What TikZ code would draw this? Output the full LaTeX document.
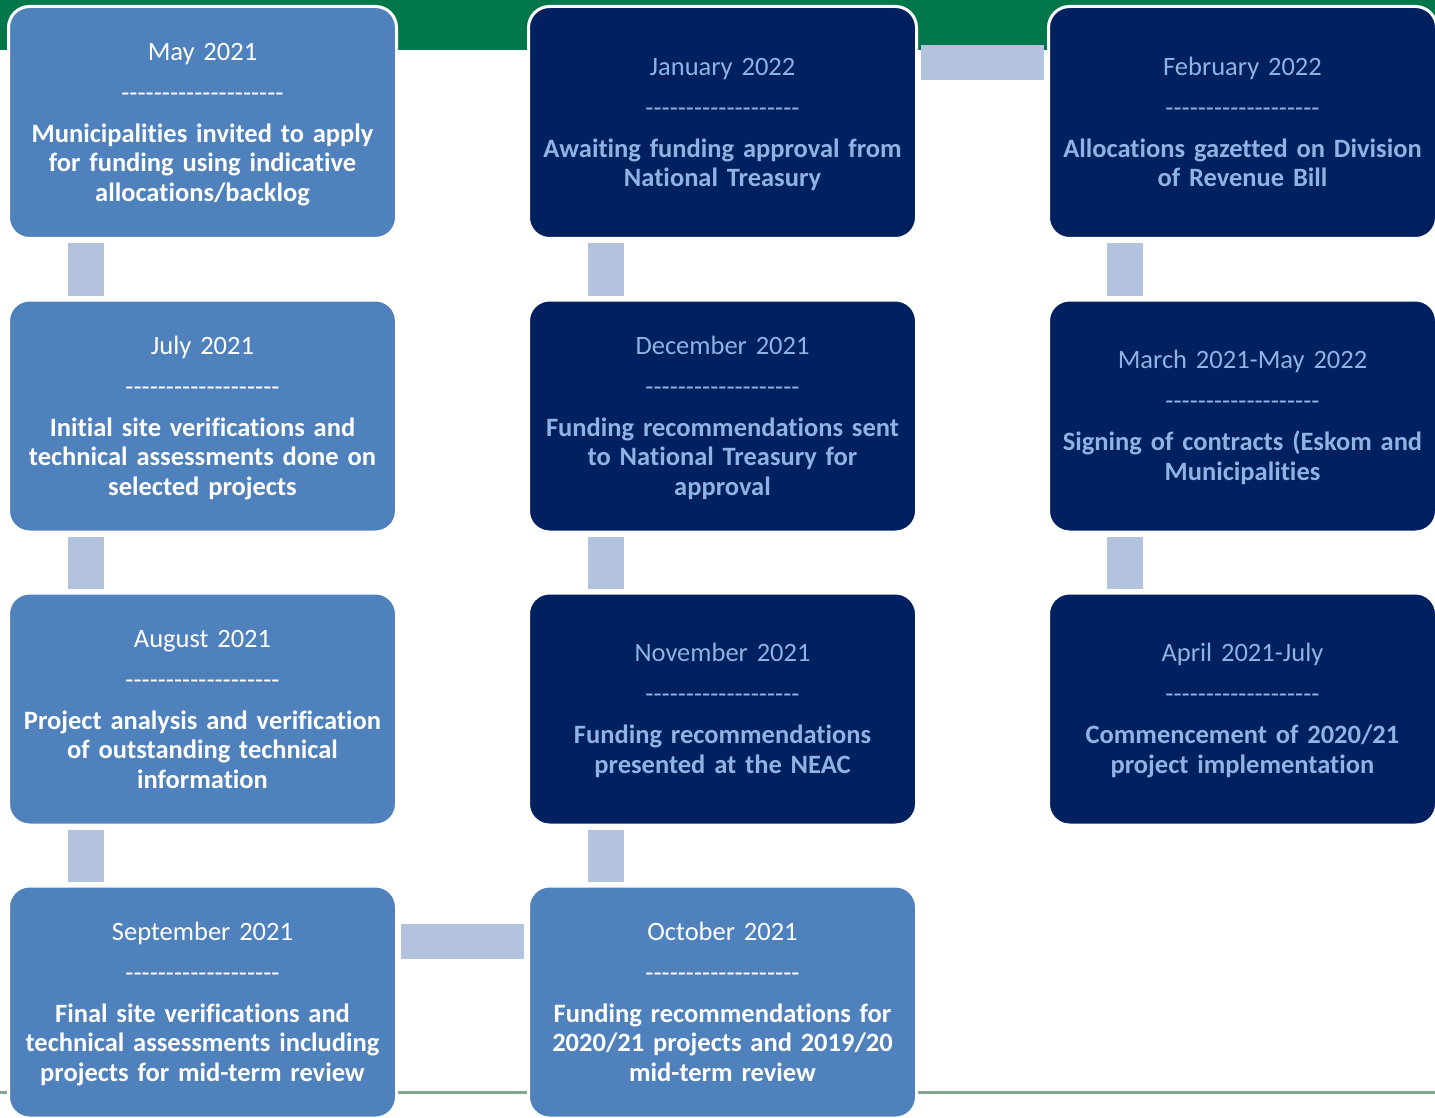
\documentclass[tikz,border=0pt]{standalone}
\usepackage{fontspec}
\setmainfont{Carlito}[Ligatures={TeXOff,CommonOff}]
\definecolor{boxlight}{RGB}{79,129,189}
\definecolor{boxnavy}{RGB}{0,32,96}
\definecolor{navytext}{RGB}{142,180,227}
\definecolor{connclr}{RGB}{179,194,221}
\definecolor{bandgreen}{RGB}{0,119,74}
\definecolor{baseclr}{RGB}{130,166,144}
\tikzset{
  box/.style={rounded corners=21pt, draw=white, line width=3pt,
    minimum width=388pt, minimum height=232pt, text width=380pt,
    align=center, inner sep=0pt, outer sep=0pt,
    font=\fontsize{26.5}{29.5}\selectfont},
  lightbox/.style={box, fill=boxlight, text=white},
  darkbox/.style={box, fill=boxnavy, text=navytext},
  vconn/.style={draw=connclr, line width=36pt, line cap=butt},
  hconn/.style={draw=connclr, line width=35pt, line cap=butt},
}
\newcommand{\gapline}{\\[11.5pt]}
\newcommand{\boxtext}[3]{\rule{0pt}{24pt}#1\gapline #2\gapline {\bfseries #3\rule[-7pt]{0pt}{0pt}}}
\begin{document}
\begin{tikzpicture}[x=1pt,y=-1pt]
\useasboundingbox (0,0) rectangle (1435,1118);
% background band and base line
\fill[bandgreen] (0,0) rectangle (1435,50);
\draw[baseclr, line width=3pt] (0,1092) -- (1435,1092);

% column 1
\node[lightbox] (may) at (202.5,122.5) {\boxtext{May 2021}{--------------------}{Municipalities invited to apply\\ for funding using indicative\\ allocations/backlog}};
\node[lightbox] (jul) at (202.5,416) {\boxtext{July 2021}{-------------------}{Initial site verifications and\\ technical assessments done on\\ selected projects}};
\node[lightbox] (aug) at (202.5,709) {\boxtext{August 2021}{-------------------}{Project analysis and verification\\ of outstanding technical\\ information}};
\node[lightbox] (sep) at (202.5,1002) {\boxtext{September 2021}{-------------------}{Final site verifications and\\ technical assessments including\\ projects for mid-term review}};

% column 2
\node[lightbox] (oct) at (722.5,1002) {\boxtext{October 2021}{-------------------}{Funding recommendations for\\ 2020/21 projects and 2019/20\\ mid-term review}};
\node[darkbox] (nov) at (722.5,709) {\boxtext{November 2021}{-------------------}{Funding recommendations\\ presented at the NEAC}};
\node[darkbox] (dec) at (722.5,416) {\boxtext{December 2021}{-------------------}{Funding recommendations sent\\ to National Treasury for\\ approval}};
\node[darkbox] (jan) at (722.5,122.5) {\boxtext{January 2022}{-------------------}{Awaiting funding approval from\\ National Treasury}};

% column 3
\node[darkbox] (feb) at (1242.5,122.5) {\boxtext{February 2022}{-------------------}{Allocations gazetted on Division\\ of Revenue Bill}};
\node[darkbox] (mar) at (1242.5,416) {\boxtext{March 2021-May 2022}{-------------------}{Signing of contracts (Eskom and\\ Municipalities}};
\node[darkbox] (apr) at (1242.5,709) {\boxtext{April 2021-July}{-------------------}{Commencement of 2020/21\\ project implementation}};

% connectors
\draw[vconn] ([xshift=77.5pt,yshift=-4.5pt]may.south west) -- ([xshift=77.5pt,yshift=4.5pt]jul.north west);
\draw[vconn] ([xshift=77.5pt,yshift=-4.5pt]jul.south west) -- ([xshift=77.5pt,yshift=4.5pt]aug.north west);
\draw[vconn] ([xshift=77.5pt,yshift=-4.5pt]aug.south west) -- ([xshift=77.5pt,yshift=4.5pt]sep.north west);
\draw[hconn] ([xshift=4.5pt,yshift=60.5pt]sep.east) -- ([xshift=-4.5pt,yshift=60.5pt]oct.west);
\draw[vconn] ([xshift=77.5pt,yshift=4.5pt]oct.north west) -- ([xshift=77.5pt,yshift=-4.5pt]nov.south west);
\draw[vconn] ([xshift=77.5pt,yshift=4.5pt]nov.north west) -- ([xshift=77.5pt,yshift=-4.5pt]dec.south west);
\draw[vconn] ([xshift=77.5pt,yshift=4.5pt]dec.north west) -- ([xshift=77.5pt,yshift=-4.5pt]jan.south west);
\draw[hconn] ([xshift=4.5pt,yshift=60pt]jan.east) -- ([xshift=-4.5pt,yshift=60pt]feb.west);
\draw[vconn] ([xshift=76.5pt,yshift=-4.5pt]feb.south west) -- ([xshift=76.5pt,yshift=4.5pt]mar.north west);
\draw[vconn] ([xshift=76.5pt,yshift=-4.5pt]mar.south west) -- ([xshift=76.5pt,yshift=4.5pt]apr.north west);
\end{tikzpicture}
\end{document}
